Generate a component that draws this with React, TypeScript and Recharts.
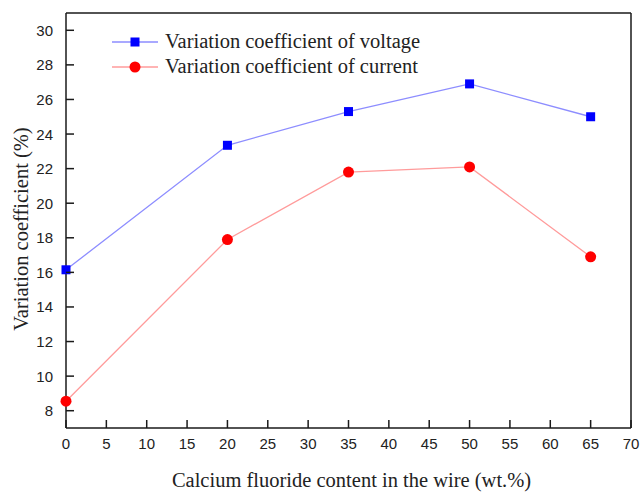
import { LineChart, Line, XAxis, YAxis, Legend, ReferenceLine, Label } from 'recharts';

// CaF2 content in the flux-cored wire (wt.%)
const fluorideContent = [0, 20, 35, 50, 65];
// coefficient of variation (%) for arc voltage and welding current
const voltageCv = [16.15, 23.35, 25.3, 26.9, 25.0];
const currentCv = [8.55, 17.9, 21.8, 22.1, 16.9];

const xTicks = [0, 5, 10, 15, 20, 25, 30, 35, 40, 45, 50, 55, 60, 65, 70];
const yTicks = [8, 10, 12, 14, 16, 18, 20, 22, 24, 26, 28, 30];

const data = fluorideContent.map((x, i) => ({
  x,
  voltage: voltageCv[i],
  current: currentCv[i],
}));

const AXIS = '#1a1a1a';
const SANS = '"Liberation Sans", Arial, sans-serif';
const SERIF = '"Liberation Serif", "Times New Roman", serif';

const series = [
  { key: 'voltage', name: 'Variation coefficient of voltage', line: '#8d8dff', mark: '#0000ff', shape: 'square' },
  { key: 'current', name: 'Variation coefficient of current', line: '#ff9b9b', mark: '#ff0000', shape: 'circle' },
];

function YTick({ x, y, payload }: any) {
  return (
    <g>
      <line x1={x} x2={x + 8} y1={y} y2={y} stroke={AXIS} strokeWidth={1.5} />
      <text x={x - 13} y={y} textAnchor="end" dominantBaseline="central" fontFamily={SANS} fontSize={15} fill="#222">
        {payload.value}
      </text>
    </g>
  );
}

function XTick({ x, y, payload }: any) {
  return (
    <g>
      <line x1={x} x2={x} y1={y} y2={y - 8} stroke={AXIS} strokeWidth={1.5} />
      <text x={x} y={y + 21} textAnchor="middle" fontFamily={SANS} fontSize={15} fill="#222">
        {payload.value}
      </text>
    </g>
  );
}

const SquareDot = ({ cx, cy, index }: any) => (
  <rect key={`sq-${index}`} x={cx - 4.5} y={cy - 4.5} width={9} height={9} fill="#0000ff" />
);

const RoundDot = ({ cx, cy, index }: any) => (
  <circle key={`ci-${index}`} cx={cx} cy={cy} r={5.5} fill="#ff0000" />
);

function LegendBox() {
  return (
    <div>
      {series.map((s) => (
        <div key={s.key} style={{ display: 'flex', alignItems: 'center', height: 25 }}>
          <svg width={48} height={14} style={{ marginRight: 6 }}>
            <line x1={1} x2={47} y1={7} y2={7} stroke={s.line} strokeWidth={1.3} />
            {s.shape === 'square' ? (
              <rect x={19.5} y={2.5} width={9} height={9} fill={s.mark} />
            ) : (
              <circle cx={24} cy={7} r={5.5} fill={s.mark} />
            )}
          </svg>
          <span style={{ fontFamily: SERIF, fontSize: 20.5, color: '#222', whiteSpace: 'nowrap' }}>{s.name}</span>
        </div>
      ))}
    </div>
  );
}

export default function App() {
  return (
    <div style={{ position: 'absolute', left: 0, top: 0, background: '#fff' }}>
      <LineChart width={644} height={495} data={data} margin={{ top: 13, right: 13, left: 26, bottom: 37 }}>
        <XAxis
          dataKey="x"
          type="number"
          domain={[0, 70]}
          ticks={xTicks}
          interval={0}
          tickSize={0}
          tickMargin={0}
          height={30}
          tick={<XTick />}
          axisLine={{ stroke: AXIS, strokeWidth: 1.5 }}
        >
          <Label
            content={({ viewBox }: any) => (
              <text
                x={viewBox.x + viewBox.width / 2 + 3}
                y={viewBox.y + 59}
                textAnchor="middle"
                fontFamily={SERIF}
                fontSize={20.5}
                fill="#222"
              >
                Calcium fluoride content in the wire (wt.%)
              </text>
            )}
          />
        </XAxis>
        <YAxis
          type="number"
          domain={[7, 31]}
          ticks={yTicks}
          interval={0}
          tickSize={0}
          tickMargin={0}
          width={40}
          tick={<YTick />}
          axisLine={{ stroke: AXIS, strokeWidth: 1.5 }}
        >
          <Label
            content={({ viewBox }: any) => {
              const cx = viewBox.x - 5;
              const cy = viewBox.y + viewBox.height / 2 + 8.5;
              return (
                <text
                  x={cx}
                  y={cy}
                  transform={`rotate(-90 ${cx} ${cy})`}
                  textAnchor="middle"
                  dominantBaseline="central"
                  fontFamily={SERIF}
                  fontSize={20.5}
                  fill="#222"
                >
                  Variation coefficient (%)
                </text>
              );
            }}
          />
        </YAxis>
        <ReferenceLine y={31} stroke={AXIS} strokeWidth={1.5} />
        <ReferenceLine x={70} stroke={AXIS} strokeWidth={1.5} />
        {/* centered/middle alignment keeps the legend from reserving plot space */}
        <Legend
          layout="vertical"
          verticalAlign="middle"
          align="center"
          content={<LegendBox />}
          wrapperStyle={{ top: 29, left: 111, width: 380 }}
        />
        <Line
          type="linear"
          dataKey="voltage"
          name={series[0].name}
          stroke={series[0].line}
          strokeWidth={1.3}
          dot={SquareDot}
          activeDot={false}
          isAnimationActive={false}
        />
        <Line
          type="linear"
          dataKey="current"
          name={series[1].name}
          stroke={series[1].line}
          strokeWidth={1.3}
          dot={RoundDot}
          activeDot={false}
          isAnimationActive={false}
        />
      </LineChart>
    </div>
  );
}
